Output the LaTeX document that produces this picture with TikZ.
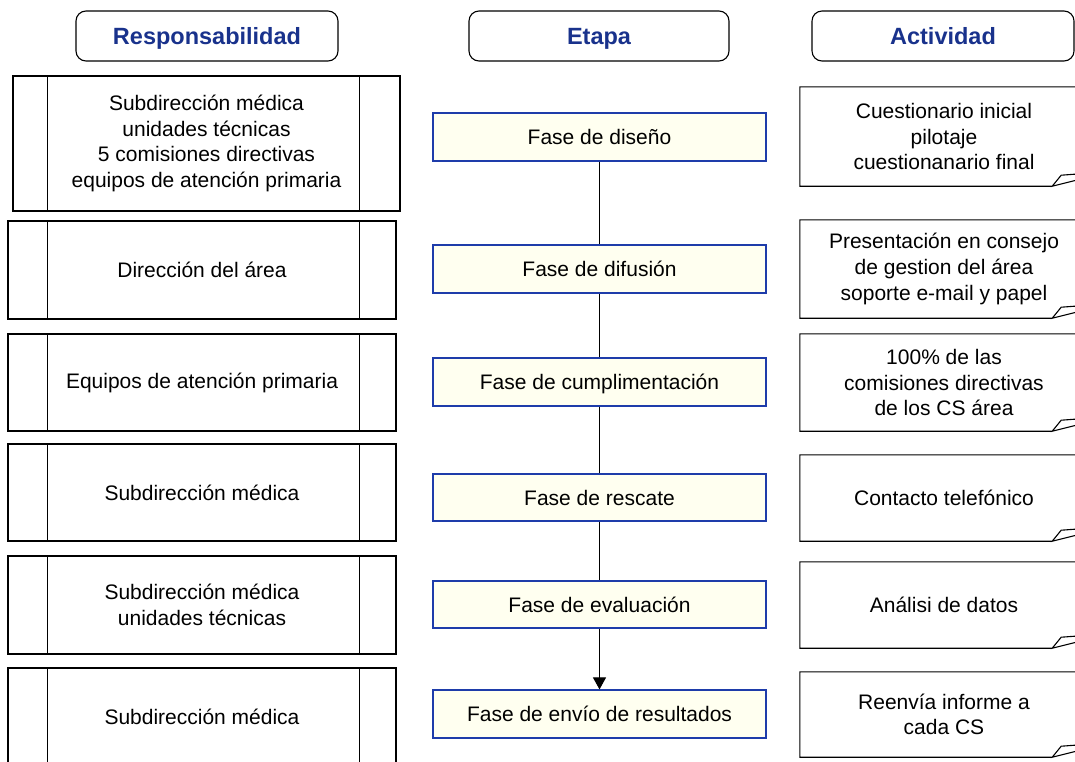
\documentclass[tikz,border=0pt]{standalone}
\usepackage{fontspec}
\setmainfont{Liberation Sans}
\usetikzlibrary{arrows.meta}
\definecolor{hdrblue}{RGB}{25,50,140}
\definecolor{faseblue}{RGB}{30,60,170}
\definecolor{fasefill}{RGB}{255,255,240}
\begin{document}
\begin{tikzpicture}[x=1pt,y=-1pt,
 txt/.style={font=\fontsize{21}{25.7}\selectfont, align=center},
 hdr/.style={draw, rounded corners=10pt, line width=1.1pt, minimum height=50pt, font=\fontsize{23.5}{28}\selectfont\bfseries, text=hdrblue, text height=19pt, text depth=2pt, inner sep=0pt},
 resp/.style={draw, line width=1.1pt, txt, inner sep=0pt},
 fase/.style={draw=faseblue, fill=fasefill, line width=1.2pt, minimum width=333pt, txt, inner sep=0pt, text height=17pt, text depth=2pt},
 act/.style={txt, inner sep=0pt, minimum width=288pt},
 link/.style={line width=1.1pt},
 fold/.style={line width=1.1pt}
]
\clip (0,0) rectangle (1075,761);
% headers
\node[hdr, minimum width=262pt] (h1) at (207,36) {Responsabilidad};
\node[hdr, minimum width=260pt] (h2) at (599,36) {Etapa};
\node[hdr, minimum width=262pt] (h3) at (943,36) {Actividad};
% responsabilidad
\node[resp, minimum width=387pt, minimum height=135pt] (r1) at (206.5,143.5) {Subdirección médica\\unidades técnicas\\5 comisiones directivas\\equipos de atención primaria};
\node[resp, minimum width=388pt, minimum height=98pt] (r2) at (202,270) {Dirección del área};
\node[resp, minimum width=388pt, minimum height=97pt] (r3) at (202,382.5) {Equipos de atención primaria};
\node[resp, minimum width=388pt, minimum height=97pt] (r4) at (202,492.5) {Subdirección médica};
\node[resp, minimum width=388pt, minimum height=98pt] (r5) at (202,605) {Subdirección médica\\unidades técnicas};
\node[resp, minimum width=388pt, minimum height=98pt] (r6) at (202,717) {Subdirección médica};
\draw[line width=1.1pt] ([xshift=35pt]r1.north west) -- ([xshift=35pt]r1.south west)
  ([xshift=-41pt]r1.north east) -- ([xshift=-41pt]r1.south east);
\foreach \n in {r2,r3,r4,r5,r6}{
  \draw[line width=1.1pt] ([xshift=40pt]\n.north west) -- ([xshift=40pt]\n.south west)
    ([xshift=-37pt]\n.north east) -- ([xshift=-37pt]\n.south east);
}
% fases
\node[fase, minimum height=48pt] (f1) at (599.5,137) {Fase de diseño};
\node[fase, minimum height=48pt] (f2) at (599.5,269) {Fase de difusión};
\node[fase, minimum height=48pt] (f3) at (599.5,382) {Fase de cumplimentación};
\node[fase, minimum height=47pt] (f4) at (599.5,497.5) {Fase de rescate};
\node[fase, minimum height=47pt] (f5) at (599.5,604.5) {Fase de evaluación};
\node[fase, minimum height=48pt] (f6) at (599.5,714) {Fase de envío de resultados};
\draw[link] (f1.south) -- (f2.north);
\draw[link] (f2.south) -- (f3.north);
\draw[link] (f3.south) -- (f4.north);
\draw[link] (f4.south) -- (f5.north);
\draw[link,-{Triangle[length=12pt,width=13pt]}] (f5.south) -- (f6.north);
% actividades
\node[act, minimum height=99pt] (a1) at (944,136.5) {Cuestionario inicial\\pilotaje\\cuestionanario final};
\node[act, minimum height=98pt] (a2) at (944,269) {Presentación en consejo\\de gestion del área\\soporte e-mail y papel};
\node[act, minimum height=97pt] (a3) at (944,382.5) {100\% de las\\comisiones directivas\\de los CS área};
\node[act, minimum height=86pt] (a4) at (944,498) {Contacto telefónico};
\node[act, minimum height=86pt] (a5) at (944,605) {Análisi de datos};
\node[act, minimum height=85pt] (a6) at (944,714.5) {Reenvía informe a\\cada CS};
\foreach \n in {a1,a2,a3,a4,a5,a6}{
  \draw[fold] ([xshift=-36pt]\n.south east) -- (\n.south west) -- (\n.north west) -- (\n.north east)
    -- ([yshift=13pt]\n.south east) -- ([xshift=-27pt,yshift=11pt]\n.south east) -- ([xshift=-36pt]\n.south east)
    -- ([yshift=9pt]\n.south east);
}
\end{tikzpicture}
\end{document}
